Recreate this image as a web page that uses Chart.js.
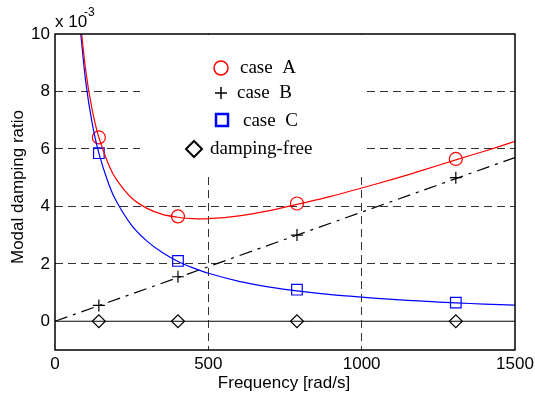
<!DOCTYPE html>
<html>
<head>
<meta charset="utf-8">
<script src="https://cdn.jsdelivr.net/npm/chart.js@4.4.1/dist/chart.umd.min.js"></script>
<style>
  html, body { margin: 0; padding: 0; background: #fff; }
  #wrap { width: 535px; height: 394px; }
</style>
</head>
<body>
<div id="wrap"><canvas id="dampChart"></canvas></div>
<script>
// values in units of 1e-3
const markerFreq = [143, 401, 789, 1307];
const caseA = [6.4, 3.65, 4.1, 5.65];
const caseB = [0.55, 1.55, 3.0, 5.0];
const caseC = [5.85, 2.1, 1.1, 0.65];
const dampingFree = [0, 0, 0, 0];

// fitted curves
const curveFreq = [80, 100, 120, 143, 175, 200, 250, 300, 350, 401, 450, 500, 600, 700, 789, 900, 1000, 1100, 1200, 1307, 1400, 1500];
const curveA = [10.75, 8.74, 7.43, 6.4, 5.45, 4.94, 4.29, 3.93, 3.72, 3.62, 3.57, 3.57, 3.67, 3.85, 4.07, 4.35, 4.64, 4.94, 5.26, 5.62, 5.92, 6.26];
const curveC = [10.45, 8.36, 6.97, 5.85, 4.78, 4.18, 3.34, 2.79, 2.39, 2.08, 1.86, 1.67, 1.39, 1.19, 1.06, 0.93, 0.84, 0.76, 0.70, 0.64, 0.60, 0.56];
const lineBFreq = [0, 1500];
const lineB = [0, 5.7];
const zeroFreq = [0, 1500];
const zeroLine = [0, 0];

const xTicks = [0, 500, 1000, 1500];
const yTicks = [0, 2, 4, 6, 8, 10];

const pts = (xs, ys) => xs.map((x, i) => ({ x: x, y: ys[i] }));
const sans = '"Liberation Sans", Arial, sans-serif';
const serif = '"Liberation Serif", "Times New Roman", serif';

const legendBox = {
    id: 'legendBox',
    beforeDatasetsDraw(chart) {
        const c = chart.ctx;
        const a = chart.chartArea;
        c.save();
        c.fillStyle = '#fff';
        c.fillRect(140, a.top + 1, 222, 172 - a.top);
        c.restore();
    },
    afterDraw(chart) {
        const c = chart.ctx;
        const a = chart.chartArea;
        c.save();
        // frame
        c.strokeStyle = '#000';
        c.lineWidth = 1.5;
        c.strokeRect(a.left, a.top, a.right - a.left, a.bottom - a.top);

        // legend
        c.font = '19px ' + serif;
        c.fillStyle = '#000';
        c.textBaseline = 'middle';
        c.textAlign = 'left';

        c.strokeStyle = 'red';
        c.lineWidth = 1.5;
        c.beginPath(); c.arc(221, 68, 7, 0, Math.PI * 2); c.stroke();
        c.fillText('case  A', 240, 68);

        c.strokeStyle = '#000';
        c.beginPath();
        c.moveTo(215, 93); c.lineTo(227, 93);
        c.moveTo(221, 87); c.lineTo(221, 99);
        c.stroke();
        c.fillText('case  B', 237, 93);

        c.strokeStyle = 'blue';
        c.lineWidth = 2.5;
        c.strokeRect(216, 114, 12, 12);
        c.fillText('case  C', 243, 121);

        c.strokeStyle = '#000';
        c.lineWidth = 2;
        c.beginPath();
        c.moveTo(194, 141); c.lineTo(202, 149); c.lineTo(194, 157); c.lineTo(186, 149); c.closePath();
        c.stroke();
        c.fillText('damping-free', 210, 149);

        // exponent
        c.font = '17px ' + sans;
        c.textBaseline = 'alphabetic';
        c.fillText('x 10', 55, 27);
        c.font = '12px ' + sans;
        c.fillText('-3', 84, 16);

        // axis titles
        c.font = '17px ' + sans;
        c.textAlign = 'center';
        c.fillText('Frequency [rad/s]', 284, 388);
        c.translate(23, 187);
        c.rotate(-Math.PI / 2);
        c.fillText('Modal damping ratio', 0, 0);
        c.restore();
    }
};

const gridColor = (inner) => (ctx) => inner.includes(ctx.tick.value) ? '#333' : 'rgba(0,0,0,0)';

const ctx = document.getElementById('dampChart').getContext('2d');
const dampChart = new Chart(ctx, {
    type: 'scatter',
    data: {
        datasets: [
            { data: pts(zeroFreq, zeroLine), showLine: true, borderColor: '#000', borderWidth: 1.2, pointRadius: 0 },
            { data: pts(curveFreq, curveA), showLine: true, borderColor: 'red', borderWidth: 1.2, pointRadius: 0, tension: 0.3 },
            { data: pts(curveFreq, curveC), showLine: true, borderColor: 'blue', borderWidth: 1.2, pointRadius: 0, tension: 0.3 },
            { data: pts(lineBFreq, lineB), showLine: true, borderColor: '#000', borderWidth: 1.2, borderDash: [13, 6, 3, 6], pointRadius: 0 },
            { label: 'case A', data: pts(markerFreq, caseA), pointStyle: 'circle', pointRadius: 6.5, pointBorderColor: 'red', pointBackgroundColor: 'rgba(0,0,0,0)', pointBorderWidth: 1.2 },
            { label: 'case B', data: pts(markerFreq, caseB), pointStyle: 'cross', pointRadius: 6, pointBorderColor: '#000', pointBorderWidth: 1.2 },
            { label: 'case C', data: pts(markerFreq, caseC), pointStyle: 'rect', pointRadius: 7.5, pointBorderColor: 'blue', pointBackgroundColor: 'rgba(0,0,0,0)', pointBorderWidth: 1.2 },
            { label: 'damping-free', data: pts(markerFreq, dampingFree), pointStyle: 'rectRot', pointRadius: 6.5, pointBorderColor: '#000', pointBackgroundColor: '#fff', pointBorderWidth: 1.2 }
        ]
    },
    options: {
        responsive: true,
        maintainAspectRatio: false,
        animation: false,
        layout: { padding: { left: 0, right: 20, top: 34, bottom: 0 } },
        plugins: { legend: { display: false }, tooltip: { enabled: false } },
        scales: {
            x: {
                type: 'linear', min: 0, max: 1500,
                afterBuildTicks: (s) => { s.ticks = xTicks.map(v => ({ value: v })); },
                afterFit: (s) => { s.height = 44; s.paddingLeft = 0; s.paddingRight = 0; },
                grid: { color: gridColor([500, 1000]), drawTicks: false, lineWidth: 1 },
                border: { display: false, dash: [8, 5] },
                ticks: { padding: 4, color: '#000', font: { family: sans, size: 17 }, callback: (v) => String(v) }
            },
            y: {
                type: 'linear', min: -1, max: 10,
                afterBuildTicks: (s) => { s.ticks = yTicks.map(v => ({ value: v })); },
                afterFit: (s) => { s.width = 55; s.paddingTop = 0; s.paddingBottom = 0; },
                grid: { color: gridColor([2, 4, 6, 8]), drawTicks: false, lineWidth: 1 },
                border: { display: false, dash: [8, 5] },
                ticks: { padding: 5, color: '#000', font: { family: sans, size: 17 }, callback: (v) => String(v) }
            }
        }
    },
    plugins: [legendBox]
});
</script>
</body>
</html>
